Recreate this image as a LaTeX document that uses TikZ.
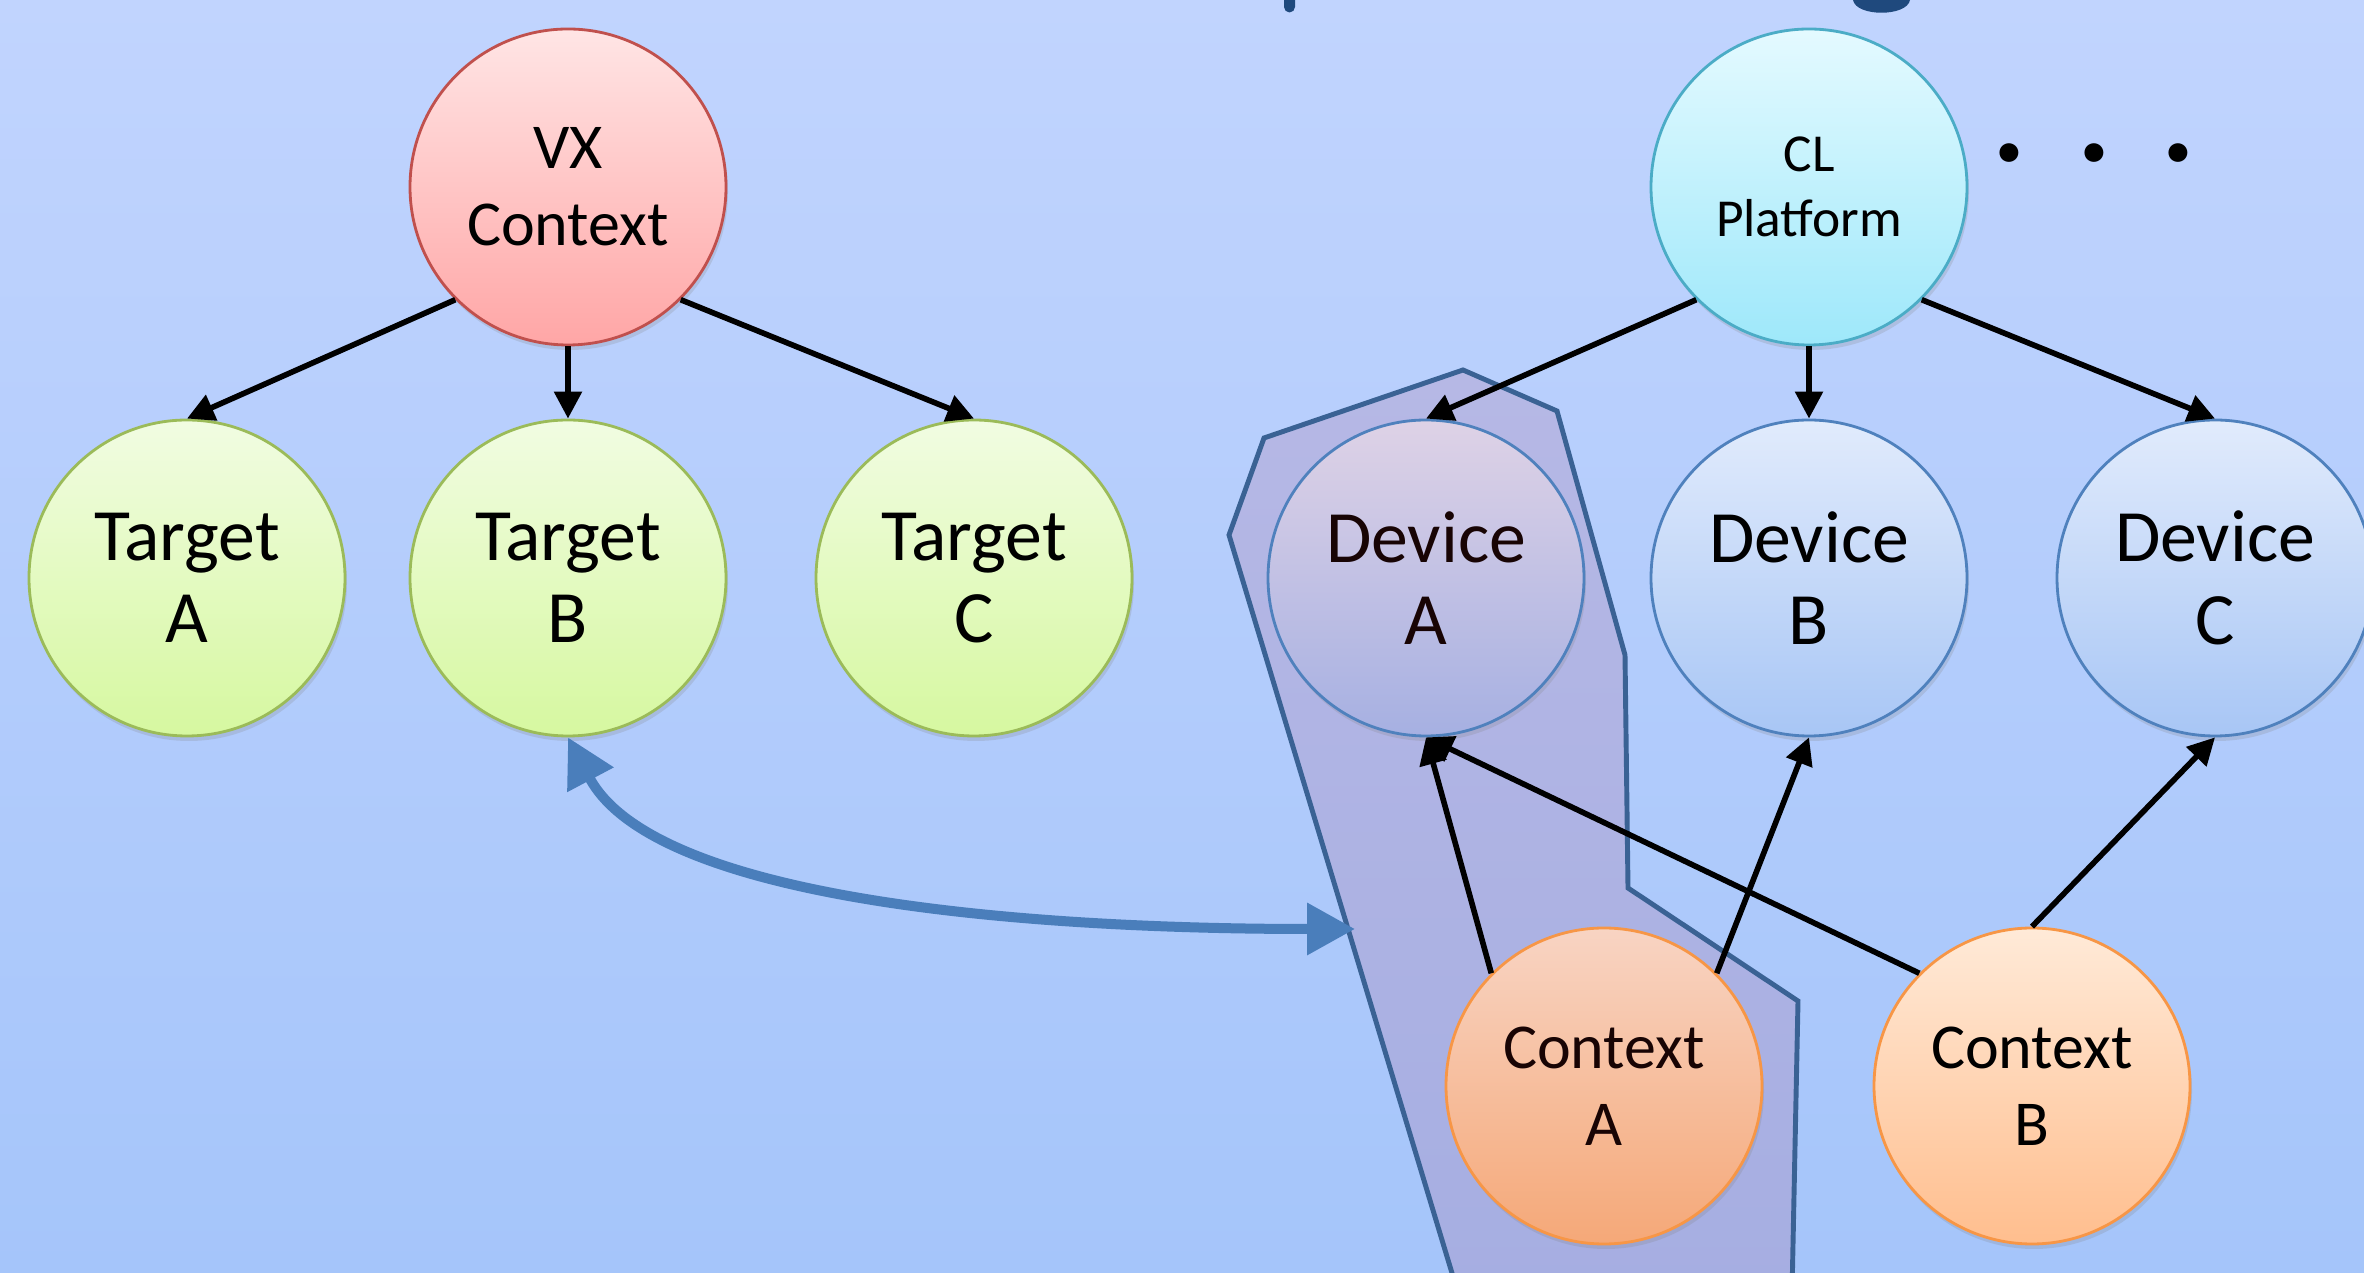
\documentclass[tikz,border=0pt]{standalone}
\usepackage{fontspec}
\setmainfont{Carlito}
\usetikzlibrary{arrows.meta, shadows}
\definecolor{bgtop}{RGB}{193,212,254}
\definecolor{bgbot}{RGB}{165,197,250}
\definecolor{vxtop}{RGB}{255,229,229}
\definecolor{vxbot}{RGB}{255,166,166}
\definecolor{vxline}{RGB}{192,80,77}
\definecolor{cltop}{RGB}{228,250,255}
\definecolor{clbot}{RGB}{158,232,250}
\definecolor{clline}{RGB}{75,172,198}
\definecolor{tgtop}{RGB}{241,252,226}
\definecolor{tgbot}{RGB}{214,248,160}
\definecolor{tgline}{RGB}{155,187,89}
\definecolor{dvtop}{RGB}{225,235,252}
\definecolor{dvbot}{RGB}{168,198,245}
\definecolor{dvline}{RGB}{79,129,189}
\definecolor{dvatop}{RGB}{222,210,230}
\definecolor{dvabot}{RGB}{166,176,226}
\definecolor{cxtop}{RGB}{255,234,216}
\definecolor{cxbot}{RGB}{255,190,142}
\definecolor{cxline}{RGB}{247,150,70}
\definecolor{cxatop}{RGB}{248,212,195}
\definecolor{cxabot}{RGB}{245,168,120}
\definecolor{darktext}{RGB}{24,4,4}
\definecolor{grptop}{RGB}{182,184,229}
\definecolor{grpbot}{RGB}{166,174,226}
\definecolor{grpline}{RGB}{58,98,148}
\definecolor{linkblue}{RGB}{74,126,187}
\definecolor{titleblue}{RGB}{31,73,125}
\tikzset{
  >={Triangle[length=0.27cm, width=0.27cm]},
  ball/.style={circle, minimum size=3.16cm, inner sep=0pt, align=center, line width=0.8pt,
    drop shadow={opacity=0.22, shadow xshift=0.02cm, shadow yshift=-0.05cm}},
  bigtext/.style={font=\fontsize{21}{23.5}\selectfont},
  midtext/.style={font=\fontsize{18.2}{22}\selectfont},
  vxball/.style={ball, midtext, draw=vxline, top color=vxtop, bottom color=vxbot},
  clball/.style={ball, font=\fontsize{15.2}{18.5}\selectfont, draw=clline, top color=cltop, bottom color=clbot},
  tgball/.style={ball, bigtext, draw=tgline, top color=tgtop, bottom color=tgbot},
  dvball/.style={ball, bigtext, draw=dvline, top color=dvtop, bottom color=dvbot},
  cxball/.style={ball, midtext, draw=cxline, top color=cxtop, bottom color=cxbot},
  ingroup/.style={text=darktext},
  group/.style={draw=grpline, line width=1.4pt, top color=grptop, bottom color=grpbot},
  link/.style={->, line width=1.6pt},
  biglink/.style={{Triangle[length=0.48cm, width=0.5cm]}-{Triangle[length=0.48cm, width=0.5cm]},
    linkblue, line width=0.1cm}
}
\begin{document}
\begin{tikzpicture}
\useasboundingbox (0,0) rectangle (23.64,12.73);
\clip (0,0) rectangle (23.64,12.73);
\fill[top color=bgtop, bottom color=bgbot] (0,0) rectangle (23.64,12.73);
% bits of the title above the frame
\fill[titleblue] (12.84,12.73) -- (12.84,12.66) arc (180:360:0.055) -- (12.95,12.73) -- cycle;
\fill[titleblue] (18.53,12.73) .. controls (18.56,12.56) and (19.07,12.56) .. (19.10,12.73) -- cycle;

\draw[group] (12.29,7.38) -- (12.64,8.35) -- (14.63,9.03) -- (15.57,8.62) -- (16.25,6.18)
  -- (16.28,3.85) -- (17.98,2.72) -- (17.92,-0.2) -- (14.58,-0.2) -- cycle;

\node[vxball] (vx) at (5.68,10.86) {VX\\Context};
\node[clball] (cl) at (18.09,10.86) {CL\\Platform};
\node[font=\fontsize{36}{36}\selectfont\bfseries, anchor=base] (more) at (20.94,11.11)
  {.\hspace{0.51cm}.\hspace{0.51cm}.};

\node[tgball] (tga) at (1.87,6.95) {Target\\A};
\node[tgball] (tgb) at (5.68,6.95) {Target\\B};
\node[tgball] (tgc) at (9.74,6.95) {Target\\C};
\node[dvball, ingroup, top color=dvatop, bottom color=dvabot] (dva) at (14.26,6.95) {Device\\A};
\node[dvball] (dvb) at (18.09,6.95) {Device\\B};
\node[dvball] (dvc) at (22.15,6.95) {Device\\C};

\node[cxball, ingroup, top color=cxatop, bottom color=cxabot] (cxa) at (16.04,1.87) {Context\\A};
\node[cxball] (cxb) at (20.32,1.87) {Context\\B};

\path[link]
(vx.south west) edge (tga.north)
(vx.south)      edge (tgb.north)
(vx.south east) edge (tgc.north)
(cl.south west) edge (dva.north)
(cl.south)      edge (dvb.north)
(cl.south east) edge (dvc.north)
(cxa.north west) edge (dva.south)
(cxa.north east) edge (dvb.south)
(cxb.north west) edge (dva.south)
(cxb.north)      edge (dvc.south);

\coordinate (ctxlink) at (13.55,3.44);
\draw[biglink] (tgb.south) .. controls +(-62:1.8) and +(180:3.5) .. (ctxlink);
\end{tikzpicture}
\end{document}
